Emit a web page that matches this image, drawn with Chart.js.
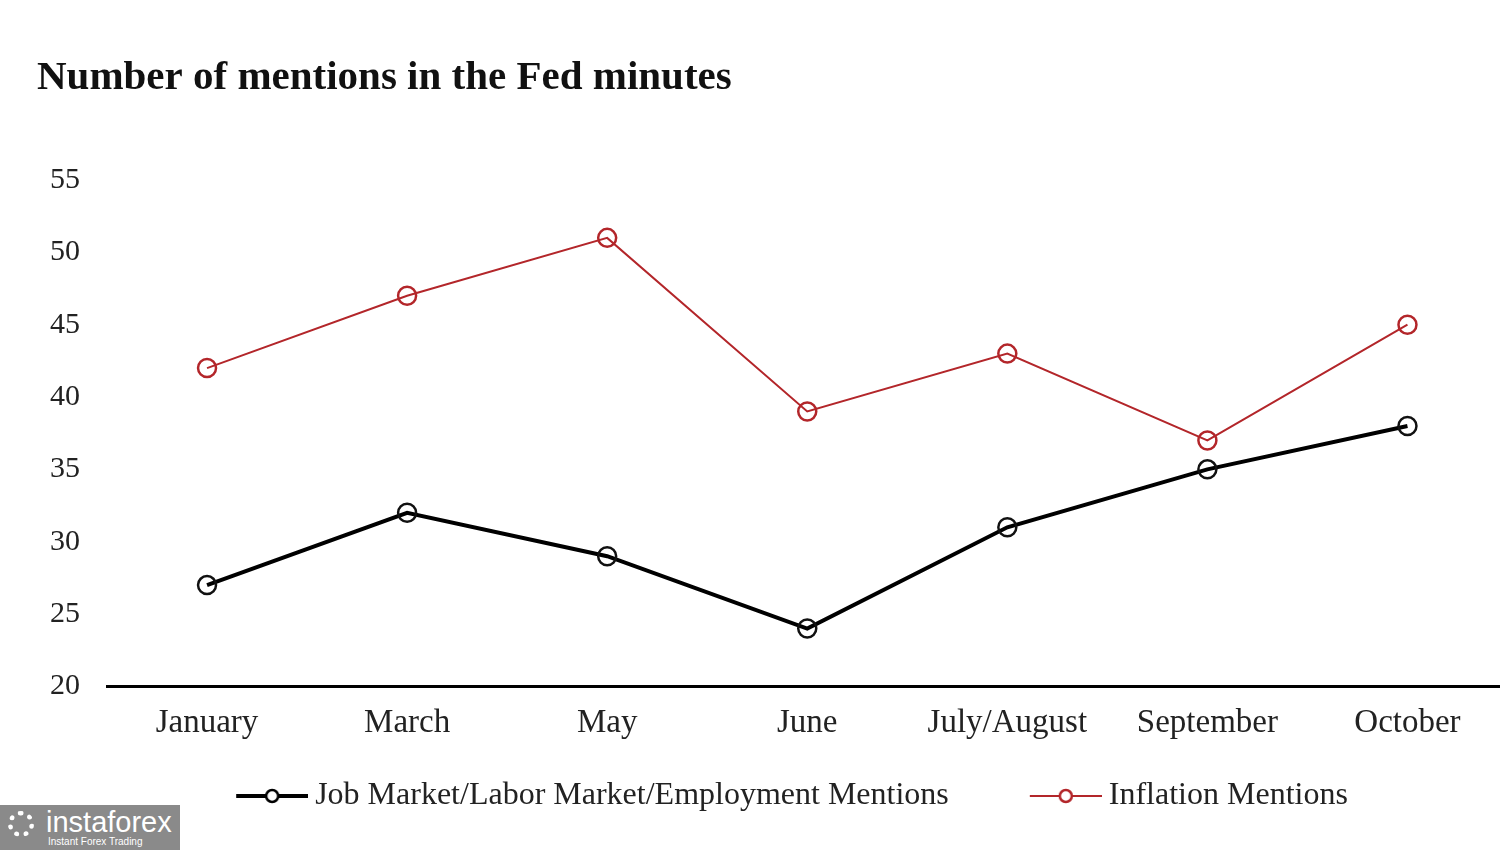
<!DOCTYPE html>
<html lang="en">
<head>
    <meta charset="UTF-8">
    <title>Number of mentions in the Fed minutes</title>
    <script src="https://cdn.jsdelivr.net/npm/chart.js"></script>
    <style>
        body {
            margin: 0;
            padding: 0;
            background: #fff;
            overflow: hidden;
        }
        .wrap {
            position: relative;
            width: 1500px;
            height: 850px;
            overflow: hidden;
        }
        .badge {
            position: absolute;
            left: 0;
            top: 805px;
            width: 180px;
            height: 45px;
            background: #8a8a8a;
            color: #fff;
            font-family: 'Liberation Sans', Arial, sans-serif;
        }
        .badge .big {
            position: absolute;
            left: 46px;
            top: 1px;
            font-size: 29px;
        }
        .badge .small {
            position: absolute;
            left: 48px;
            top: 31px;
            font-size: 10px;
        }
        .badge .gear {
            position: absolute;
            left: 8px;
            top: 6px;
            width: 26px;
            height: 26px;
            border: 5px dotted #fff;
            border-radius: 50%;
            box-sizing: border-box;
        }
    </style>
</head>
<body>
    <div class="wrap">
        <!-- canvas is a little wider than the window: the x axis runs off the right edge -->
        <canvas id="mentionsChart" width="1519" height="850"></canvas>
        <div class="badge">
            <div class="gear"></div>
            <div class="big">instaforex</div>
            <div class="small">Instant Forex Trading</div>
        </div>
    </div>

    <script>
        const months = ['January', 'March', 'May', 'June', 'July/August', 'September', 'October'];
        const jobMentions = [27, 32, 29, 24, 31, 35, 38];
        const inflationMentions = [42, 47, 51, 39, 43, 37, 45];
        const yTicks = [20, 25, 30, 35, 40, 45, 50, 55];

        const serif = "'Liberation Serif', 'DejaVu Serif', serif";
        const titleText = 'Number of mentions in the Fed minutes';

        // legend marker: blank room on the left, then a short line with a hollow circle.
        // the image is 18px wider than the legend box so the line runs close to the text
        const markGap = 70;
        const markBox = markGap + 54;
        function legendMark(color, lineW) {
            const c = document.createElement('canvas');
            c.width = markGap + 72;
            c.height = 22;
            const ctx = c.getContext('2d');
            ctx.strokeStyle = color;
            ctx.lineWidth = lineW;
            ctx.beginPath();
            ctx.moveTo(markGap, 11);
            ctx.lineTo(markGap + 72, 11);
            ctx.stroke();
            ctx.fillStyle = '#fff';
            ctx.lineWidth = 2.5;
            ctx.beginPath();
            ctx.arc(markGap + 36, 11, 6, 0, Math.PI * 2);
            ctx.fill();
            ctx.stroke();
            return c;
        }

        // title sits further left than the chart area, so draw it by hand
        const titlePlugin = {
            id: 'leftTitle',
            afterDraw(chart) {
                const c = chart.ctx;
                c.save();
                c.font = 'bold 41px ' + serif;
                c.fillStyle = '#111';
                c.textBaseline = 'middle';
                c.fillText(titleText, 37, 78);
                c.restore();
            }
        };

        const ctx = document.getElementById('mentionsChart').getContext('2d');
        new Chart(ctx, {
            type: 'line',
            data: {
                labels: months,
                datasets: [{
                    label: 'Job Market/Labor Market/Employment Mentions',
                    data: jobMentions,
                    borderColor: '#000',
                    borderWidth: 4,
                    pointRadius: 9,
                    pointBorderWidth: 2.5,
                    pointBorderColor: '#111',
                    pointBackgroundColor: 'rgba(255,255,255,0)',
                    tension: 0
                }, {
                    label: 'Inflation Mentions',
                    data: inflationMentions,
                    borderColor: '#b3262a',
                    borderWidth: 2,
                    pointRadius: 9,
                    pointBorderWidth: 2.5,
                    pointBorderColor: '#b3262a',
                    pointBackgroundColor: 'rgba(255,255,255,0)',
                    tension: 0
                }]
            },
            plugins: [titlePlugin],
            options: {
                responsive: false,
                animation: false,
                layout: { padding: { left: 4, right: 0, top: 180, bottom: 28 } },
                plugins: {
                    title: { display: false },
                    legend: {
                        position: 'bottom',
                        labels: {
                            usePointStyle: true,
                            pointStyleWidth: markBox,
                            color: '#222',
                            padding: 20,
                            font: { family: serif, size: 32 },
                            generateLabels: function (chart) {
                                return chart.data.datasets.map(function (ds, i) {
                                    return {
                                        text: ds.label,
                                        pointStyle: legendMark(ds.borderColor, ds.borderWidth),
                                        fillStyle: 'transparent',
                                        strokeStyle: 'transparent',
                                        lineWidth: 0,
                                        hidden: false,
                                        datasetIndex: i,
                                        fontColor: '#222'
                                    };
                                });
                            }
                        }
                    },
                    tooltip: { enabled: false }
                },
                scales: {
                    x: {
                        offset: true,
                        grid: { display: false, drawTicks: false },
                        border: { display: true, color: '#000', width: 3 },
                        ticks: {
                            color: '#222',
                            padding: 17,
                            font: { family: serif, size: 33 }
                        }
                    },
                    y: {
                        min: 20,
                        max: 55,
                        grid: { display: false, drawTicks: false },
                        border: { display: false },
                        afterBuildTicks: function (scale) {
                            scale.ticks = yTicks.map(function (v) { return { value: v }; });
                        },
                        afterFit: function (scale) {
                            scale.width = 103;
                        },
                        ticks: {
                            color: '#222',
                            padding: 27,
                            font: { family: serif, size: 30 }
                        }
                    }
                }
            }
        });
    </script>
</body>
</html>
